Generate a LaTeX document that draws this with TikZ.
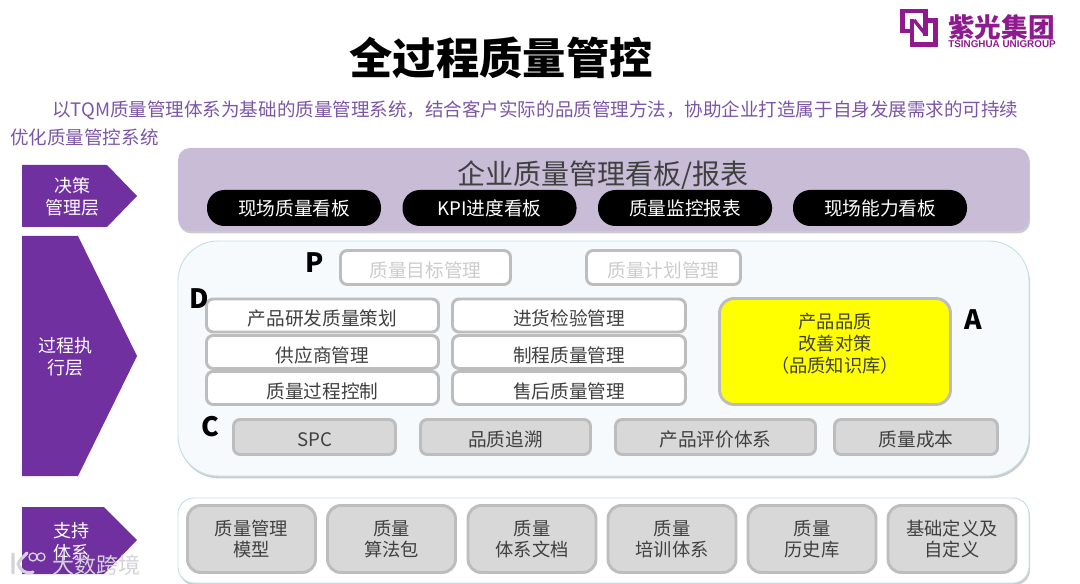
\documentclass[tikz,border=0pt]{standalone}
\usepackage{fontspec}
\setmainfont{Noto Sans CJK SC}
\newfontfamily\heavyfont{Noto Sans CJK SC Black}
\newfontfamily\latinbold{Liberation Sans}
\usepackage{xcolor}
\usetikzlibrary{shadows}
\definecolor{unipurple}{HTML}{7030A0}
\definecolor{logopurple}{HTML}{8E1A8E}
\definecolor{introtext}{HTML}{7B55A6}
\definecolor{toppanel}{HTML}{C9BCD7}
\definecolor{panelfill}{HTML}{F6FAFC}
\definecolor{panelline}{HTML}{C5DFE5}
\definecolor{boxline}{HTML}{BDBDBD}
\definecolor{boxfill}{HTML}{D8D8D8}
\definecolor{boxtext}{HTML}{404040}
\definecolor{actyellow}{HTML}{FFFF00}
\definecolor{marktext}{HTML}{D4D2D8}
\tikzset{
  every picture/.style={line join=round, line cap=round},
  w/.style={minimum width=#1*0.75pt},
  h/.style={minimum height=#1*0.75pt},
  softshadow/.style={drop shadow={opacity=0.4,shadow xshift=0.8pt,shadow yshift=-1.8pt}},
  panel/.style={draw=panelline,fill=panelfill,line width=0.7pt,inner sep=0pt,softshadow},
  board/.style={fill=black,text=white,rounded corners=13pt,w=174,h=36,inner sep=0pt,
    text height=12pt,text depth=0pt,font=\fontsize{14}{16}\selectfont},
  whitebox/.style={draw=boxline,fill=white,line width=2.2pt,rounded corners=5pt,h=33,inner sep=0pt,
    text=boxtext,text height=15.5pt,text depth=0pt,font=\fontsize{14}{16}\selectfont},
  planbox/.style={whitebox,text=black!20,h=34,text height=14.8pt},
  checkbox/.style={whitebox,fill=boxfill,h=35,text height=14.8pt},
  basebox/.style={draw=boxline,fill=boxfill,line width=2.2pt,rounded corners=10pt,w=128,h=67,
    inner sep=0pt,text=boxtext,align=center,font=\fontsize{13.7}{16}\selectfont},
  pdca/.style={inner sep=0pt,text=black,font=\heavyfont\fontsize{20}{22}\selectfont},
  tag/.style={text=white,align=center,inner sep=0pt,font=\fontsize{13.5}{16.5}\selectfont},
}
\begin{document}
\begin{tikzpicture}[x=0.75pt,y=-0.75pt]
\useasboundingbox (0,0) rectangle (1080,584);
% heading
\node[font=\bfseries\fontsize{32.5}{36}\selectfont] (title) at (501,58) {全过程质量管控};
\node[anchor=west,inner sep=0pt,text=introtext,font=\fontsize{13.9}{16}\selectfont] (introa) at (52,110)
  {以TQM质量管理体系为基础的质量管理系统，结合客户实际的品质管理方法，协助企业打造属于自身发展需求的可持续};
\node[anchor=west,inner sep=0pt,text=introtext,font=\fontsize{13.9}{16}\selectfont] (introb) at (10,137)
  {优化质量管控系统};
% logo
\draw[logopurple,line width=3.4pt,line cap=butt,line join=miter]
  (912,31)--(902.5,31)--(902.5,11)--(925.5,11)--(925.5,36)
  (925.5,20.5)--(935.5,20.5)--(935.5,44.5)--(912,44.5)--(912,19);
\draw[logopurple,line width=2.6pt,line cap=butt] (914,20)--(926,35);
\node[anchor=west,inner sep=0pt,text=logopurple,font=\bfseries\fontsize{20}{22}\selectfont] (logoname) at (948,27) {紫光集团};
\node[anchor=west,inner sep=0pt,text=logopurple,font=\latinbold\bfseries\fontsize{7.4}{8}\selectfont] (logosub) at (948,44) {TSINGHUA UNIGROUP};
% left arrows
\fill[unipurple] (22,165)--(107,165)--(137,196)--(107,227)--(22,227)--cycle;
\fill[unipurple] (22,236)--(78,236)--(137,356)--(78,476)--(22,476)--cycle;
\fill[unipurple] (22,507)--(104,507)--(137,540)--(104,574)--(22,574)--cycle;
\node[tag] (tagtop) at (72,197) {决策\\管理层};
\node[tag] (tagmid) at (65,357) {过程执\\行层};
\node[tag] (tagbase) at (71,542) {支持\\体系};
% top panel
\node[fill=toppanel,rounded corners=9pt,w=851,h=83,softshadow] (toppanel) at (603.5,189.5) {};
\node[text=boxtext,inner sep=0pt,font=\fontsize{21}{24}\selectfont] (topname) at (603,175) {企业质量管理看板/报表};
\node[board] (boarda) at (294,208) {现场质量看板};
\node[board] (boardb) at (489.5,208) {KPI进度看板};
\node[board] (boardc) at (685,208) {质量监控报表};
\node[board] (boardd) at (880,208) {现场能力看板};
% middle panel
\node[panel,rounded corners=30pt,w=851,h=235] (midpanel) at (603.5,358.5) {};
\node[pdca] (letterp) at (315,263) {P};
\node[planbox,w=170] (plana) at (425.5,267.5) {质量目标管理};
\node[planbox,w=154] (planb) at (663.5,267.5) {质量计划管理};
\node[whitebox,w=232] (doa) at (322.5,315.5) {产品研发质量策划};
\node[whitebox,w=232] (dob) at (322.5,352) {供应商管理};
\node[whitebox,w=232] (doc) at (322.5,388) {质量过程控制};
\node[whitebox,w=233] (dod) at (569,315.5) {进货检验管理};
\node[whitebox,w=233] (doe) at (569,352) {制程质量管理};
\node[whitebox,w=233] (dof) at (569,388) {售后质量管理};
\node[pdca] (letterd) at (199,299) {D};
\node[draw=boxline,fill=actyellow,line width=2.2pt,rounded corners=11pt,w=231,h=106] (act) at (835,351.5) {};
\node[text=boxtext,align=center,inner sep=0pt,font=\fontsize{13.7}{16.5}\selectfont] (acttext) at (835,344) {产品品质\\改善对策\\（品质知识库）};
\node[pdca] (lettera) at (973,320) {A};
\node[pdca] (letterc) at (210,427) {C};
\node[checkbox,w=162] (checka) at (314.5,437) {SPC};
\node[checkbox,w=170] (checkb) at (505.5,437) {品质追溯};
\node[checkbox,w=200] (checkc) at (715.5,437) {产品评价体系};
\node[checkbox,w=163] (checkd) at (916,437) {质量成本};
% support panel
\node[panel,fill=white,rounded corners=12pt,w=851,h=85] (basepanel) at (603.5,540.5) {};
\node[basebox] (basea) at (251.5,539) {质量管理\\模型};
\node[basebox] (baseb) at (391.5,539) {质量\\算法包};
\node[basebox] (basec) at (532,539) {质量\\体系文档};
\node[basebox] (based) at (672,539) {质量\\培训体系};
\node[basebox] (basee) at (812,539) {质量\\历史库};
\node[basebox] (basef) at (952,539) {基础定义及\\自定义};
% watermark
\draw[marktext,line width=2.4pt] (13,554)--(13,573)
  (27,553)..controls (22,558) and (19,561) .. (18,564)..controls (20,570) and (26,575) .. (33,572);
\draw[marktext,line width=1pt] (33,557) circle (4) (41,557) circle (4);
\node[text=marktext,inner sep=0pt,font=\fontsize{16.5}{18}\selectfont] (mark) at (96,565) {大数跨境};
\end{tikzpicture}
\end{document}
